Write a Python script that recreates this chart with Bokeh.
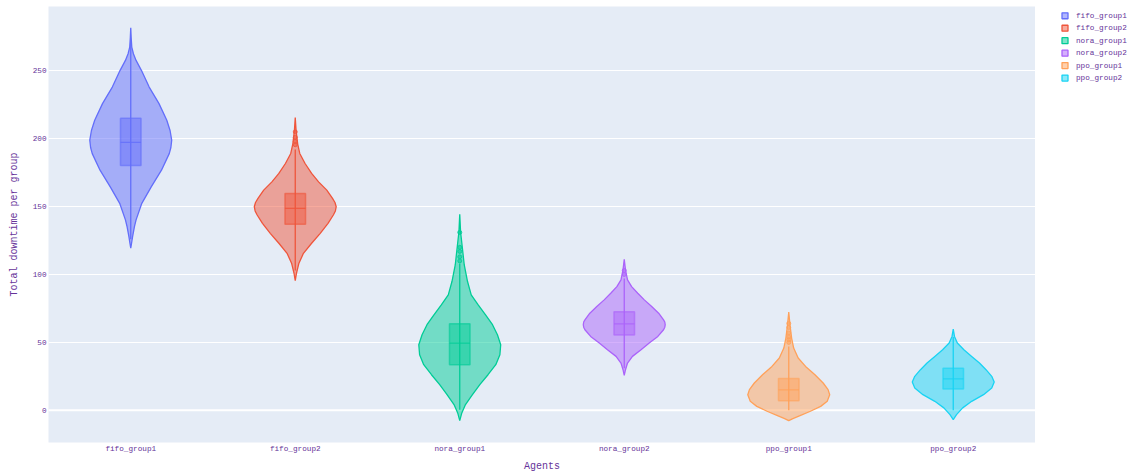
from bokeh.plotting import figure
from bokeh.layouts import row
from bokeh.models import Range1d, FixedTicker, Span
from bokeh.core.properties import value
from bokeh.embed import file_html
from bokeh.resources import INLINE

# Agent groups and their trace colours
agents = ["fifo_group1", "fifo_group2", "nora_group1", "nora_group2", "ppo_group1", "ppo_group2"]
colors = ["#636efa", "#ef553b", "#00cc96", "#ab63fa", "#ffa15a", "#19d3f3"]

# Kernel density outlines: downtime values and density relative to each violin's peak
fifo1_y = [119.3, 123.0, 127.8, 135.2, 140.2, 152.4, 164.5, 176.8, 189.0, 193.5, 198.9, 206.0, 213.5, 225.8, 238.0, 250.3, 257.6, 262.5, 267.4, 274.7, 281.6]
fifo1_w = [0.0, 0.02, 0.045, 0.09, 0.13, 0.27, 0.50, 0.75, 0.94, 0.98, 1.0, 0.96, 0.88, 0.69, 0.45, 0.26, 0.13, 0.065, 0.025, 0.01, 0.0]

fifo2_y = [95.5, 100.9, 108.3, 115.6, 123.0, 130.3, 137.7, 143.8, 146.8, 149.9, 153.0, 156.0, 162.1, 168.2, 174.4, 181.7, 189.1, 196.0, 206.2, 215.5]
fifo2_w = [0.0, 0.03, 0.09, 0.20, 0.40, 0.61, 0.80, 0.93, 0.98, 1.0, 0.97, 0.91, 0.77, 0.57, 0.40, 0.24, 0.11, 0.06, 0.02, 0.0]

nora1_y = [-7.6, -1.9, 4.2, 11.5, 18.9, 26.2, 33.6, 40.9, 48.3, 55.6, 63.0, 70.3, 77.6, 85.0, 94.8, 107.0, 119.3, 131.5, 144.3]
nora1_w = [0.0, 0.05, 0.14, 0.31, 0.49, 0.69, 0.88, 0.98, 1.0, 0.92, 0.80, 0.63, 0.45, 0.28, 0.19, 0.11, 0.065, 0.02, 0.0]

nora2_y = [25.7, 29.9, 34.8, 39.7, 44.6, 49.5, 54.4, 59.3, 61.2, 63.0, 65.0, 66.6, 71.5, 76.4, 81.3, 86.2, 91.1, 96.0, 103.4, 111.2]
nora2_w = [0.0, 0.03, 0.08, 0.20, 0.41, 0.61, 0.82, 0.96, 0.99, 1.0, 0.99, 0.96, 0.84, 0.67, 0.49, 0.33, 0.18, 0.08, 0.03, 0.0]

ppo1_y = [-7.6, -6.1, -3.7, -0.7, 2.9, 6.6, 11.5, 15.2, 20.1, 26.2, 32.3, 38.5, 45.8, 53.2, 63.0, 72.3]
ppo1_w = [0.0, 0.10, 0.29, 0.53, 0.78, 0.94, 1.0, 0.96, 0.84, 0.64, 0.41, 0.23, 0.12, 0.07, 0.03, 0.0]

ppo2_y = [-6.8, -3.2, 1.8, 6.6, 11.5, 16.5, 20.9, 25.0, 29.9, 34.8, 39.7, 44.6, 49.5, 54.4, 59.8]
ppo2_w = [0.0, 0.08, 0.23, 0.45, 0.74, 0.94, 1.0, 0.94, 0.80, 0.64, 0.45, 0.26, 0.10, 0.03, 0.0]

# Box statistics per group
q1 = [180.3, 136.9, 33.6, 55.4, 7.1, 15.7]
medians = [197.2, 148.7, 49.5, 63.7, 15.0, 23.1]
q3 = [215.0, 159.7, 63.7, 72.5, 23.5, 30.9]
whisker_lo = [126.0, 103.0, 0.5, 31.0, 0.0, 0.0]
whisker_hi = [272.0, 192.0, 108.0, 97.0, 47.0, 54.0]

# Points beyond the whiskers
fifo2_out = [195.5, 198.0, 201.0, 205.0]
nora1_out = [110.0, 113.0, 117.0, 120.0, 131.0]
nora2_out = [100.0, 103.0]
ppo1_out = [50.0, 52.0, 54.0, 57.0, 61.0, 64.0]

outlines = [(fifo1_y, fifo1_w), (fifo2_y, fifo2_w), (nora1_y, nora1_w),
            (nora2_y, nora2_w), (ppo1_y, ppo1_w), (ppo2_y, ppo2_w)]
outliers = [[], fifo2_out, nora1_out, nora2_out, ppo1_out, []]

TEXT = "#663399"
FONT = "Liberation Mono"
HALF = 0.249      # peak half-width of a violin, in category units
BOX_HALF = 0.0625  # half-width of the inner box
BORDER_TOP, BORDER_BOTTOM = 6, 31
HEIGHT = 474

p = figure(width=1035, height=HEIGHT, output_backend="svg", toolbar_location=None,
           x_range=Range1d(0, len(agents)), y_range=Range1d(-23.7, 297.3),
           min_border_left=48, min_border_right=0,
           min_border_top=BORDER_TOP, min_border_bottom=BORDER_BOTTOM)

p.background_fill_color = "#e5ecf6"
p.border_fill_color = "white"
p.outline_line_color = None

p.xgrid.grid_line_color = None
p.ygrid.grid_line_color = "white"
p.ygrid.grid_line_width = 1
p.ygrid.ticker = FixedTicker(ticks=[0, 50, 100, 150, 200, 250])
p.add_layout(Span(location=0, dimension="width", line_color="white", line_width=2, level="underlay"))

centers = [i + 0.5 for i in range(len(agents))]
for i, (name, col) in enumerate(zip(agents, colors)):
    c = centers[i]
    ys, ws = outlines[i]
    px = [c + w * HALF for w in ws] + [c - w * HALF for w in reversed(ws)]
    py = list(ys) + list(reversed(ys))
    p.patch(px, py, fill_color=col, fill_alpha=0.5, line_color=col, line_width=1.3)

    p.segment(x0=[c], y0=[whisker_lo[i]], x1=[c], y1=[whisker_hi[i]], line_color=col, line_width=1.3)
    p.quad(left=[c - BOX_HALF], right=[c + BOX_HALF], bottom=[q1[i]], top=[q3[i]],
           fill_color=col, fill_alpha=0.5, line_color=col, line_alpha=0.6, line_width=1.5)
    p.segment(x0=[c - BOX_HALF], y0=[medians[i]], x1=[c + BOX_HALF], y1=[medians[i]],
              line_color=col, line_alpha=0.8, line_width=1.3)
    if outliers[i]:
        p.scatter([c] * len(outliers[i]), outliers[i], size=4, fill_color=col, fill_alpha=0.6,
                  line_color=col, line_alpha=0.8)

# Axes
p.xaxis.ticker = FixedTicker(ticks=centers)
p.xaxis.major_label_overrides = {c: n for c, n in zip(centers, agents)}
p.yaxis.ticker = FixedTicker(ticks=[0, 50, 100, 150, 200, 250])
p.xaxis.axis_label = "Agents"
p.yaxis.axis_label = "Total downtime per group"
for ax in (p.xaxis, p.yaxis):
    ax.axis_line_color = None
    ax.major_tick_line_color = None
    ax.minor_tick_line_color = None
    ax.major_tick_out = 0
    ax.major_tick_in = 0
    ax.major_label_text_font = FONT
    ax.major_label_text_font_size = "7.7px"
    ax.major_label_text_color = TEXT
    ax.axis_label_text_font = FONT
    ax.axis_label_text_font_size = "10px"
    ax.axis_label_text_font_style = "normal"
    ax.axis_label_text_color = TEXT
p.xaxis.major_label_standoff = 2
p.xaxis.axis_label_standoff = 5
p.yaxis.major_label_standoff = 2
p.yaxis.axis_label_standoff = 10

# Legend strip to the right of the plot area; its frame shares the plot's vertical
# extent, and ranges are in pixels measured down from the frame top
LG_W = 97
LG_FRAME_H = HEIGHT - BORDER_TOP - BORDER_BOTTOM
lg = figure(width=LG_W, height=HEIGHT, output_backend="svg", toolbar_location=None,
            x_range=Range1d(0, LG_W), y_range=Range1d(LG_FRAME_H, 0),
            x_axis_type=None, y_axis_type=None,
            min_border_left=0, min_border_right=0,
            min_border_top=BORDER_TOP, min_border_bottom=BORDER_BOTTOM)
lg.outline_line_color = None
lg.grid.grid_line_color = None
lg.background_fill_color = "white"
lg.border_fill_color = "white"

row_y = [9.3 + 12.48 * k for k in range(len(agents))]
lg.rect(x=[29.5] * len(agents), y=row_y, width=6, height=6,
        fill_color=colors, fill_alpha=0.5, line_color=colors, line_width=1.3)
lg.text(x=[40.5] * len(agents), y=row_y, text=agents, text_baseline="middle", text_align="left",
        text_font=value(FONT), text_font_size="7.7px", text_color=TEXT)

layout = row(p, lg, spacing=0)
open("out.html", "w").write(file_html(layout, INLINE))
